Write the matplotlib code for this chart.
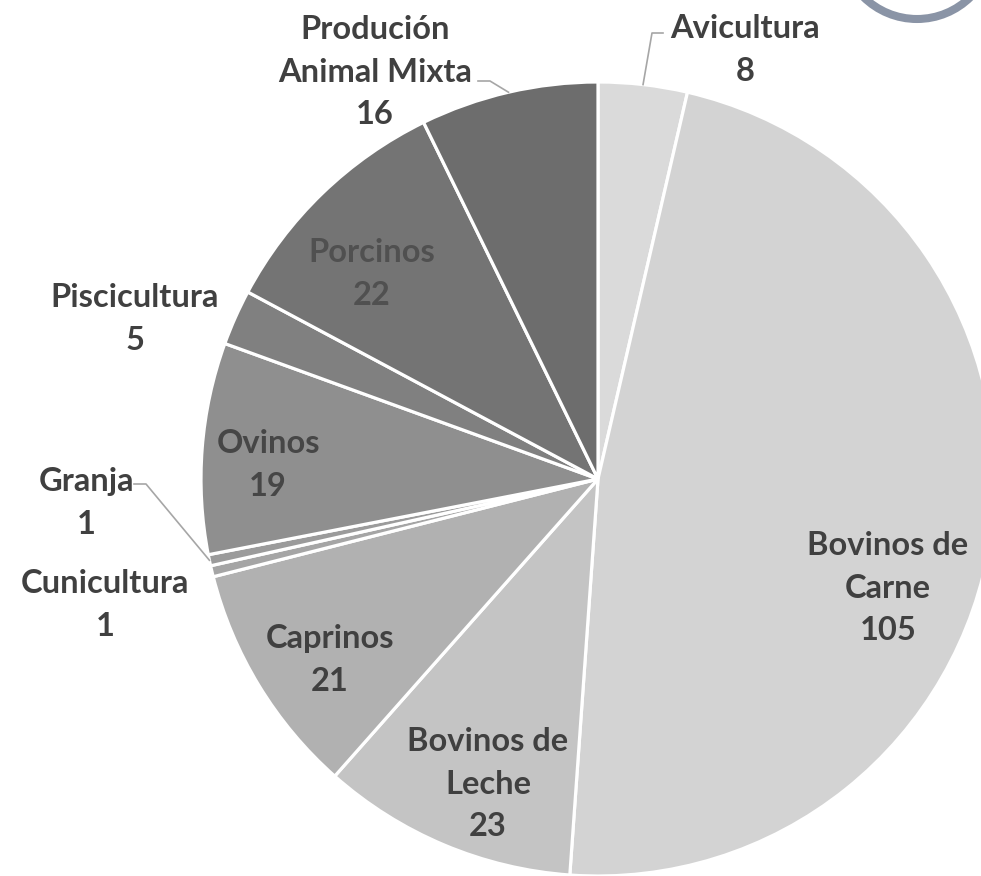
import matplotlib.pyplot as plt
from matplotlib.patches import Circle
import numpy as np

# Datos
categorias = ['Avicultura', 'Bovinos de Carne', 'Bovinos de Leche', 'Caprinos',
              'Cunicultura', 'Granja', 'Ovinos', 'Piscicultura', 'Porcinos',
              'Produción Animal Mixta']
valores = [8, 105, 23, 21, 1, 1, 19, 5, 22, 16]
colores = ['#dadada', '#d3d3d3', '#c4c4c4', '#b1b1b1', '#a5a5a5',
           '#9b9b9b', '#8f8f8f', '#808080', '#747474', '#6d6d6d']

# Textos de etiqueta (posición en pixeles de la imagen)
etiquetas = {
    'Avicultura': ('Avicultura\n8', 745, 50, '#404040'),
    'Bovinos de Carne': ('Bovinos de\nCarne\n105', 888, 588, '#404040'),
    'Bovinos de Leche': ('Bovinos de\nLeche\n23', 488, 784, '#404040'),
    'Caprinos': ('Caprinos\n21', 330, 660, '#404040'),
    'Cunicultura': ('Cunicultura\n1', 105, 605, '#404040'),
    'Granja': ('Granja\n1', 86, 503, '#404040'),
    'Ovinos': ('Ovinos\n19', 268, 465, '#464646'),
    'Piscicultura': ('Piscicultura\n5', 135, 319, '#404040'),
    'Porcinos': ('Porcinos\n22', 372, 274, '#505050'),
    'Produción Animal Mixta': ('Produción\nAnimal Mixta\n16', 375, 72, '#404040'),
}
# Guias: (punto de codo en la imagen, extremo horizontal)
guias = {
    'Avicultura': ((652, 33), (663, 33)),
    'Produción Animal Mixta': ((490, 81), (478, 81)),
    'Granja': ((146, 484), (134, 484)),
}

W, H = 981, 876
cx, cy, r = 598, 479, 397


def py(y):
    return H - y


fig = plt.figure(figsize=(W / 100, H / 100), dpi=100)
ax = fig.add_axes([0, 0, 1, 1])
ax.set_xlim(0, W)
ax.set_ylim(0, H)
ax.axis('off')

wedges, _ = ax.pie(valores, colors=colores, startangle=90, counterclock=False,
                   center=(cx, py(cy)), radius=r,
                   wedgeprops=dict(edgecolor='white', linewidth=2.3))
ax.set_xlim(0, W)
ax.set_ylim(0, H)
ax.set_aspect('equal')

for w, cat in zip(wedges, categorias):
    texto, x, y, col = etiquetas[cat]
    ax.text(x, py(y), texto, ha='center', va='center', fontsize=23.5,
            fontweight='bold', family=['Lato', 'DejaVu Sans'], color=col,
            linespacing=1.58)
    if cat in guias:
        ang = np.deg2rad((w.theta1 + w.theta2) / 2)
        px_ = cx + r * np.cos(ang)
        py_ = py(cy) + r * np.sin(ang)
        (kx, ky), (ex, ey) = guias[cat]
        ax.plot([px_, kx, ex], [py_, py(ky), py(ey)], color='#a6a6a6', lw=1.2)

# Circulo decorativo arriba a la derecha
ax.add_patch(Circle((917, py(-57)), 76, fill=False, edgecolor='#8a94a6',
                    linewidth=5.8, clip_on=True))

fig.savefig('out.png', dpi=100)
